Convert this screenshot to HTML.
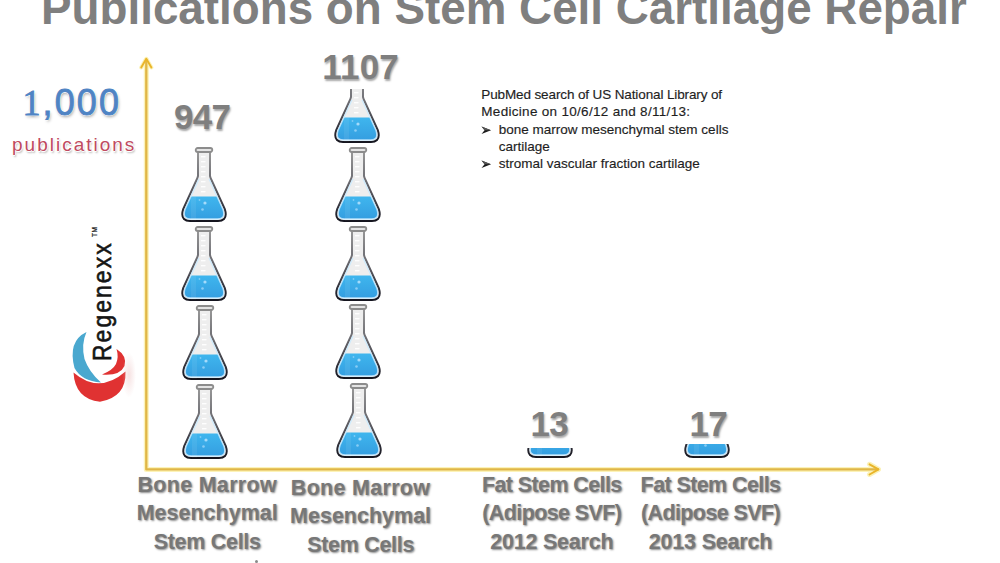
<!DOCTYPE html>
<html><head><meta charset="utf-8">
<style>
html,body{margin:0;padding:0;background:#fff;}
body{width:1000px;height:563px;position:relative;overflow:hidden;font-family:"Liberation Sans",sans-serif;}
.abs{position:absolute;white-space:nowrap;}
#title{left:41px;top:-15px;font-size:46px;font-weight:bold;color:#7f7f7f;line-height:46px;transform-origin:0 0;transform:scaleX(0.995);}
.num{font-weight:bold;color:#7f7f7f;font-size:35px;line-height:35px;letter-spacing:-0.7px;text-shadow:1px 2px 2px rgba(0,0,0,0.35);}
.lab{font-weight:bold;color:#777777;font-size:21.5px;line-height:28.5px;text-align:center;text-shadow:1px 1px 2px rgba(0,0,0,0.45);}
.pub{font-size:13.5px;line-height:17.4px;color:#1e1e1e;-webkit-text-stroke:0.15px #1e1e1e;}
.fl{position:absolute;width:48px;height:76px;overflow:hidden;}
.fl svg{position:absolute;left:0;width:48px;height:76px;}
</style></head>
<body>
<svg width="0" height="0" style="position:absolute">
 <defs>
  <linearGradient id="og" x1="0" y1="0" x2="0" y2="1">
   <stop offset="0" stop-color="#9a9a9a"/><stop offset="0.45" stop-color="#6a6a70"/><stop offset="1" stop-color="#15151f"/>
  </linearGradient>
  <linearGradient id="lg" x1="0" y1="0" x2="0" y2="1">
   <stop offset="0" stop-color="#3fb6ee"/><stop offset="1" stop-color="#3196dc"/>
  </linearGradient>
  <clipPath id="bc"><path d="M18.6,31.5 L4.8,62.5 Q3,68.5 5.5,70.5 Q7,72 10.5,72 L37.5,72 Q41,72 42.5,70.5 Q45,68.5 43.2,62.5 L29.4,31.5 Z"/></clipPath>
  <symbol id="flask" viewBox="0 0 48 76">
   <path d="M18,3 L18,29 Q17.5,31 16.5,33 L3.2,62 Q1,69 4,72 Q6,74 10,74 L38,74 Q42,74 44,72 Q47,69 44.8,62 L31.5,33 Q30.5,31 30,29 L30,3" fill="#eeeeee" stroke="url(#og)" stroke-width="2"/>
   <g clip-path="url(#bc)"><rect x="0" y="49.5" width="48" height="30" fill="url(#lg)"/></g>
   <path d="M18.9,32 L5,62.5 Q3.2,68.5 5.7,70.6 Q7.2,72 10.5,72 L37.5,72 Q40.8,72 42.3,70.6 Q44.8,68.5 43,62.5 L29.1,32" fill="none" stroke="#c8eaff" stroke-opacity="0.85" stroke-width="1.3"/>
   <rect x="15.7" y="1" width="16.6" height="4" rx="2" fill="#e4e4e4" stroke="#8c8c8c" stroke-width="1.8"/>
   <g fill="#ffffff" opacity="0.95">
    <rect x="21" y="9" width="4.5" height="1.4"/><rect x="21" y="14" width="4.5" height="1.4"/><rect x="21" y="19" width="4.5" height="1.4"/><rect x="21" y="24" width="4.5" height="1.4"/><rect x="21" y="29" width="4.5" height="1.4"/><rect x="21" y="34" width="4.5" height="1.4"/><rect x="21" y="39" width="4.5" height="1.4"/><rect x="21" y="44" width="4.5" height="1.4"/>
   </g>
   <rect x="11" y="49.5" width="5" height="24" fill="#fff" opacity="0.07"/><circle cx="25" cy="56" r="1.6" fill="#bfe6ff" opacity="0.8"/><circle cx="22.5" cy="62.5" r="1.3" fill="#bfe6ff" opacity="0.6"/><circle cx="19.5" cy="53" r="0.9" fill="#bfe6ff" opacity="0.5"/>
  </symbol>
 </defs>
</svg>

<div id="title" class="abs">Publications on Stem Cell Cartilage Repair</div>

<!-- axes -->
<svg class="abs" style="left:0;top:0" width="1000" height="563">
 <g stroke="#fbf0a8" stroke-width="5" fill="none" stroke-linecap="round" stroke-linejoin="round" opacity="0.8">
  <path d="M146.3,60 L146.3,469.4 L878,469.4"/>
  <path d="M141.2,67.5 L146.3,58.8 L151.4,67.5" stroke-width="4"/>
  <path d="M869.5,464.3 L878.5,469.4 L869.5,474.5"/>
 </g>
 <g stroke="#e0b646" stroke-width="2.3" fill="none" stroke-linecap="round" stroke-linejoin="round">
  <path d="M146.3,60 L146.3,469.4 L878,469.4"/>
  <path d="M141.2,67.5 L146.3,58.8 L151.4,67.5" stroke="#eab52a" stroke-width="1.9"/>
  <path d="M869.5,464.3 L878.5,469.4 L869.5,474.5" stroke="#eab52a" stroke-width="1.9"/>
 </g>
</svg>

<!-- 1,000 publications -->
<div class="abs" style="left:22.5px;top:82.5px;font-size:36px;line-height:40px;color:#4f84c4;-webkit-text-stroke:0.9px #4f84c4;letter-spacing:2.1px;text-shadow:1px 0 #fff,-1px 0 #fff,0 1px #fff,0 -1px #fff,1px 2px 3px rgba(0,0,0,0.35);"><span style="font-family:'Liberation Serif',serif;">1</span>,000</div>
<div class="abs" style="left:12px;top:133.5px;font-size:19px;line-height:22px;color:#bf4a60;letter-spacing:2.0px;text-shadow:1px 0 #fff,-1px 0 #fff,0 1px #fff,0 -1px #fff,1px 2px 2px rgba(0,0,0,0.3);">publications</div>

<!-- Regenexx logo -->
<div class="abs" style="left:88.5px;top:361px;transform:rotate(-90deg) scaleX(0.87);transform-origin:0 0;font-size:26.3px;line-height:26px;letter-spacing:2.4px;color:#151515;-webkit-text-stroke:0.6px #151515;">Regenexx<span style="font-size:7.5px;position:relative;top:-14px;margin-left:5px;letter-spacing:0.5px;-webkit-text-stroke:0.2px #151515;">TM</span></div>
<svg class="abs" style="left:60px;top:320px" width="80" height="90">
 <path d="M26.5,12 Q7.5,21 14.5,48 Q21.5,61 41,62.5 Q29,52 24.5,39 Q21,24 26.5,12 Z" fill="#4aa8cf"/>
 <path d="M56.5,29 Q67.5,36 64.5,46 Q60,56 42,54.5 Q53,50 56,44 Q59,37 56.5,29 Z" fill="#e03232"/>
 <path d="M13.5,52.5 Q39,74.5 65.5,51.5 Q66.5,77 40,81.8 Q15,79 13.5,52.5 Z" fill="#e03232"/>
</svg>

<div class="abs" style="left:122px;top:352px;width:14px;height:46px;border-radius:50%;background:radial-gradient(ellipse at center,rgba(235,190,190,0.45),rgba(255,255,255,0) 70%);"></div>
<div class="abs" style="left:255px;top:560px;width:3px;height:3px;border-radius:50%;background:#8a8a8a;"></div>

<!-- numbers -->
<div class="abs num" style="left:174px;top:99px">947</div>
<div class="abs num" style="left:322.3px;top:49px;letter-spacing:0.2px">1107</div>
<div class="abs num" style="left:530.5px;top:406px">13</div>
<div class="abs num" style="left:689.5px;top:406px">17</div>

<!-- flasks col1 -->
<div class="fl" style="left:180.05px;top:147.2px"><svg><use href="#flask"/></svg></div>
<div class="fl" style="left:180.45px;top:226.0px"><svg><use href="#flask"/></svg></div>
<div class="fl" style="left:180.85px;top:304.8px"><svg><use href="#flask"/></svg></div>
<div class="fl" style="left:181.25px;top:383.6px"><svg><use href="#flask"/></svg></div>
<!-- col2 -->
<div class="fl" style="left:333.35px;top:88.8px;height:56px"><svg style="top:-20.8px"><use href="#flask"/></svg></div>
<div class="fl" style="left:333.65px;top:146.82px"><svg><use href="#flask"/></svg></div>
<div class="fl" style="left:333.95px;top:225.65px"><svg><use href="#flask"/></svg></div>
<div class="fl" style="left:334.25px;top:304.48px"><svg><use href="#flask"/></svg></div>
<div class="fl" style="left:334.55px;top:383.3px"><svg><use href="#flask"/></svg></div>
<!-- col3/4 partial -->
<div class="fl" style="left:525.9px;top:447.8px;height:11.5px"><svg style="top:-64.5px"><use href="#flask"/></svg></div>
<div class="fl" style="left:683.4px;top:444px;height:15.5px"><svg style="top:-60.8px"><use href="#flask"/></svg></div>

<!-- text box -->
<div class="abs pub" style="left:481.3px;top:85.8px"><span style="letter-spacing:-0.12px">PubMed search of US National Library of</span><br><span style="letter-spacing:0.3px">Medicine on 10/6/12 and 8/11/13:</span></div>
<svg class="abs" style="left:481px;top:125.5px" width="11" height="9"><path d="M0.5,0.5 L10,4.2 L0.5,8 L3.6,4.2 Z" fill="#1a1a1a"/><path d="M0.5,0.5 L10,4.2 L3.6,4.2 Z" fill="#555"/></svg>
<div class="abs pub" style="left:498.8px;top:120.6px">bone marrow mesenchymal stem cells<br>cartilage</div>
<svg class="abs" style="left:481px;top:160.3px" width="11" height="9"><path d="M0.5,0.5 L10,4.2 L0.5,8 L3.6,4.2 Z" fill="#1a1a1a"/><path d="M0.5,0.5 L10,4.2 L3.6,4.2 Z" fill="#555"/></svg>
<div class="abs pub" style="left:498.8px;top:155.4px">stromal vascular fraction cartilage</div>

<!-- labels -->
<div class="abs lab" style="left:107.19999999999999px;top:470.5px;width:200px"><span style="letter-spacing:0.3px">Bone Marrow</span><br><span style="letter-spacing:0.0px">Mesenchymal</span><br><span style="letter-spacing:-0.3px">Stem Cells</span></div>
<div class="abs lab" style="left:260.6px;top:473.5px;width:200px"><span style="letter-spacing:0.3px">Bone Marrow</span><br><span style="letter-spacing:0.0px">Mesenchymal</span><br><span style="letter-spacing:-0.3px">Stem Cells</span></div>
<div class="abs lab" style="left:451.79999999999995px;top:470.5px;width:200px"><span style="letter-spacing:-0.6px">Fat Stem Cells</span><br><span style="letter-spacing:-0.6px">(Adipose SVF)</span><br><span style="letter-spacing:-0.2px">2012 Search</span></div>
<div class="abs lab" style="left:610.5px;top:470.5px;width:200px"><span style="letter-spacing:-0.6px">Fat Stem Cells</span><br><span style="letter-spacing:-0.6px">(Adipose SVF)</span><br><span style="letter-spacing:-0.2px">2013 Search</span></div>
</body></html>
